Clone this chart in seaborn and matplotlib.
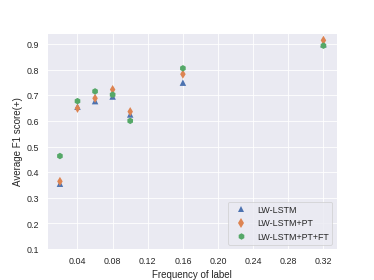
import pandas as pd
import matplotlib.pyplot as plt
import seaborn as sns

sns.set_theme(style="darkgrid")
plt.rcParams["font.family"] = ["Liberation Sans", "DejaVu Sans"]

freq = [0.02, 0.04, 0.06, 0.08, 0.10, 0.16, 0.32]
lw_lstm = [0.355, 0.655, 0.677, 0.695, 0.625, 0.749, 0.899]
lw_lstm_pt = [0.364, 0.649, 0.688, 0.722, 0.636, 0.782, 0.914]
lw_lstm_pt_ft = [0.463, 0.677, 0.715, 0.702, 0.600, 0.805, 0.893]
models = ["LW-LSTM", "LW-LSTM+PT", "LW-LSTM+PT+FT"]

df = pd.DataFrame({
    "freq": freq * 3,
    "score": lw_lstm + lw_lstm_pt + lw_lstm_pt_ft,
    "model": [m for m in models for _ in freq],
})

fig, ax = plt.subplots(figsize=(6.4, 4.8), dpi=58.44)
sns.scatterplot(data=df, x="freq", y="score", hue="model", style="model",
                markers={"LW-LSTM": "^", "LW-LSTM+PT": "d", "LW-LSTM+PT+FT": "h"},
                s=64, linewidth=0, ax=ax)

ax.set_xticks([0.04, 0.08, 0.12, 0.16, 0.20, 0.24, 0.28, 0.32])
ax.set_yticks([0.1, 0.2, 0.3, 0.4, 0.5, 0.6, 0.7, 0.8, 0.9])
ax.set_ylim(bottom=0.1)
ax.set_xlabel("Frequency of label")
ax.set_ylabel("Average F1 score(+)")
ax.legend(loc="lower right", title=None, fontsize=11)

fig.savefig("out.png", dpi=58.44)
